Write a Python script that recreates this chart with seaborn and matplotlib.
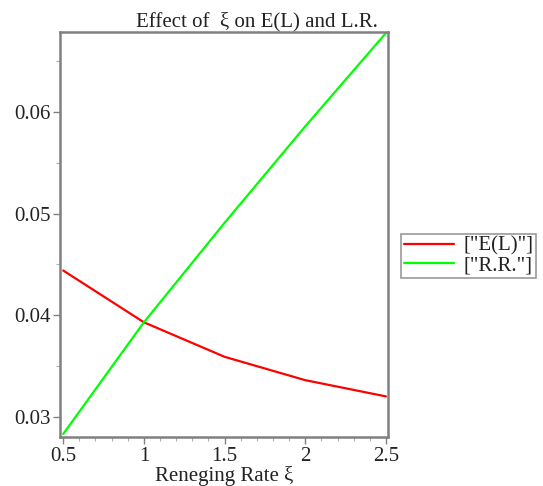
import matplotlib
matplotlib.use("Agg")
import matplotlib.pyplot as plt
import seaborn as sns
import pandas as pd
from matplotlib.ticker import MultipleLocator, FixedLocator

xi = [0.5, 1.0, 1.5, 2.0, 2.5]
EL = [0.0444, 0.0393, 0.0359, 0.0336, 0.0320]
RR = [0.0283, 0.0393, 0.0491, 0.0586, 0.0678]
series_names = ['["E(L)"]', '["R.R."]']
x_ticks = [0.5, 1, 1.5, 2, 2.5]
x_tick_labels = ["0.5", "1", "1.5", "2", "2.5"]
y_ticks = [0.03, 0.04, 0.05, 0.06]
y_tick_labels = ["0.03", "0.04", "0.05", "0.06"]

df = pd.DataFrame({
    "xi": xi * 2,
    "value": EL + RR,
    "series": [series_names[0]] * len(xi) + [series_names[1]] * len(xi),
})

sns.set_theme(style="white")
plt.rcParams["font.family"] = ["Liberation Serif", "DejaVu Serif"]

fig = plt.figure(figsize=(5.43, 4.86), dpi=100)
ax = fig.add_axes([60/543, 1-437/486, (388-60)/543, (437-32)/486])

sns.lineplot(data=df, x="xi", y="value", hue="series",
             palette=["#ff0000", "#00ff00"], linewidth=1.6, ax=ax, legend=True)

ax.set_xlim(0.48, 2.513)
ax.set_ylim(0.0280, 0.0679)
ax.xaxis.set_major_locator(FixedLocator(x_ticks))
ax.set_xticklabels(x_tick_labels)
ax.yaxis.set_major_locator(FixedLocator(y_ticks))
ax.set_yticklabels(y_tick_labels)
ax.xaxis.set_minor_locator(MultipleLocator(0.1))
ax.yaxis.set_minor_locator(MultipleLocator(0.005))

for s in ax.spines.values():
    s.set_color("#808080")
    s.set_linewidth(1.8)

ax.tick_params(axis="both", which="major", direction="out", length=5, width=1.0,
               color="#808080", labelsize=15, labelcolor="#222222", pad=2,
               bottom=True, left=True)
ax.tick_params(axis="both", which="minor", direction="out", length=3, width=0.8,
               color="#b0b0b0", bottom=True, left=True)

ax.set_xlabel("Reneging Rate ξ", fontsize=15, color="#222222", labelpad=0)
ax.set_ylabel("")

fig.text(257/543, 1-26/486, "Effect of  ξ on E(L) and L.R.", ha="center",
         va="baseline", fontsize=15, color="#222222")

leg = ax.legend(loc="center left", bbox_to_anchor=(401/543, 1-256/486),
                bbox_transform=fig.transFigure, fontsize=15, frameon=True,
                fancybox=False, edgecolor="#808080", handlelength=2.4,
                labelspacing=0.02, borderpad=0.12, handletextpad=0.5,
                borderaxespad=0, title=None)
leg.get_frame().set_linewidth(1.2)
for t in leg.get_texts():
    t.set_color("#222222")

fig.savefig("out.png", dpi=100)
